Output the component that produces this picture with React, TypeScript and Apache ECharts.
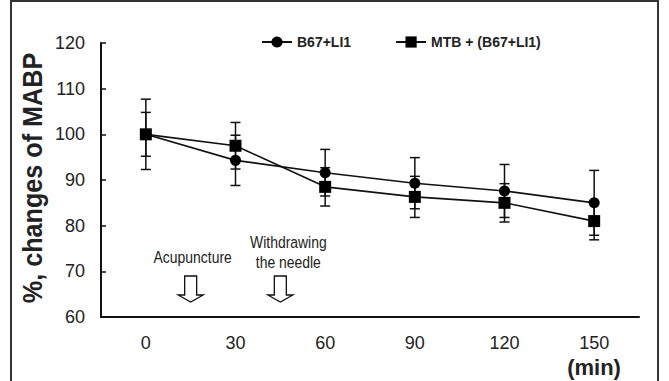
import React, { useEffect, useRef } from "react";
import * as echarts from "echarts";

// ---- data ----
const categories = ["0", "30", "60", "90", "120", "150"];
const b67Mean = [100, 94.3, 91.6, 89.3, 87.6, 85.0];
const b67Err = [7.7, 5.5, 5.1, 5.6, 5.8, 7.1];
const mtbMean = [100, 97.5, 88.5, 86.3, 85.0, 81.0];
const mtbErr = [4.8, 5.1, 4.2, 4.5, 4.2, 4.1];
const seriesNames = ["B67+LI1", "MTB + (B67+LI1)"];
const yMin = 60;
const yMax = 120;
const yInterval = 10;
const xUnit = "(min)";
const yName = "%, changes of MABP";
// arrows sit on the boundary right after these categories
const eventAfter = ["0", "30"];
const eventLabels = [["Acupuncture"], ["Withdrawing", "the needle"]];

const SANS = "'Liberation Sans', Arial, sans-serif";

export default function App() {
  const ref = useRef<HTMLDivElement>(null);

  useEffect(() => {
    document.body.style.margin = "0";
    if (!ref.current) return;
    const chart = echarts.init(ref.current, null, { renderer: "svg" });

    const errData = (mean: number[], err: number[]) =>
      mean.map((m, i) => [i, m - err[i], m + err[i]]);

    const errRender = (params: any, api: any) => {
      const x = api.value(0);
      const top = api.coord([x, api.value(2)]);
      const bot = api.coord([x, api.value(1)]);
      const hw = 5;
      const st = { stroke: "#111", lineWidth: 1.5 };
      return {
        type: "group",
        children: [
          { type: "line", shape: { x1: top[0], y1: top[1], x2: bot[0], y2: bot[1] }, style: st },
          { type: "line", shape: { x1: top[0] - hw, y1: top[1], x2: top[0] + hw, y2: top[1] }, style: st },
          { type: "line", shape: { x1: bot[0] - hw, y1: bot[1], x2: bot[0] + hw, y2: bot[1] }, style: st },
        ],
      };
    };

    const labelOffsets = [
      { dx: 2, lastBottomGap: 11 },
      { dx: 8, lastBottomGap: 6 },
    ];

    const arrowRender = (params: any, api: any) => {
      const idx = api.value(0);
      const base = api.coord([idx, yMin]);
      const band = api.size([1, 0])[0];
      const cx = base[0] + band / 2;
      const tipY = base[1] - 15;
      const headY = tipY - 7;
      const topY = tipY - 26;
      const shw = 6;
      const hhw = 12.5;
      const lines = eventLabels[params.dataIndex] || [];
      const off = labelOffsets[params.dataIndex] || { dx: 0, lastBottomGap: 10 };
      const lh = 20;
      const children: any[] = [
        {
          type: "polygon",
          shape: {
            points: [
              [cx - shw, topY],
              [cx + shw, topY],
              [cx + shw, headY],
              [cx + hhw, headY],
              [cx, tipY],
              [cx - hhw, headY],
              [cx - shw, headY],
            ],
          },
          style: { fill: "#fff", stroke: "#111", lineWidth: 1.3 },
        },
      ];
      lines.forEach((t: string, i: number) => {
        const bottom = topY - off.lastBottomGap - (lines.length - 1 - i) * lh;
        children.push({
          type: "text",
          x: cx + off.dx,
          y: bottom,
          scaleX: 0.82,
          style: {
            text: t,
            fill: "#222",
            font: `17px ${SANS}`,
            align: "center",
            verticalAlign: "bottom",
          },
        });
      });
      return { type: "group", children };
    };

    const option: any = {
      animation: false,
      backgroundColor: "#fff",
      grid: { left: 101, right: 30, top: 43, bottom: 64, containLabel: false },
      legend: {
        left: 256,
        top: 30,
        itemWidth: 30,
        itemHeight: 14,
        itemGap: 44,
        data: seriesNames,
        textStyle: { fontSize: 14, fontWeight: "bold", color: "#222", fontFamily: SANS },
      },
      xAxis: {
        type: "category",
        data: categories,
        boundaryGap: true,
        axisLine: { lineStyle: { color: "#111", width: 2 } },
        axisTick: { inside: true, length: 6, lineStyle: { color: "#111", width: 1.5 } },
        axisLabel: { fontSize: 18, color: "#222", margin: 17, fontFamily: SANS },
      },
      yAxis: {
        type: "value",
        min: yMin,
        max: yMax,
        interval: yInterval,
        axisLine: { show: true, lineStyle: { color: "#111", width: 2 } },
        axisTick: { show: true, inside: true, length: 5, lineStyle: { color: "#111", width: 1.5 } },
        axisLabel: { fontSize: 18, color: "#222", margin: 16, fontFamily: SANS },
        splitLine: { show: false },
      },
      graphic: [
        {
          type: "rect",
          shape: { x: 11, y: 1, width: 647, height: 420 },
          style: { fill: "none", stroke: "#333", lineWidth: 2 },
          silent: true,
        },
        {
          type: "text",
          x: 33,
          y: 178,
          rotation: Math.PI / 2,
          scaleX: 0.9,
          style: {
            text: yName,
            font: `bold 28px ${SANS}`,
            fill: "#222",
            align: "center",
            verticalAlign: "middle",
          },
        },
        {
          type: "text",
          x: 594,
          y: 367,
          style: {
            text: xUnit,
            font: `bold 22px ${SANS}`,
            fill: "#222",
            align: "center",
            verticalAlign: "middle",
          },
        },
      ],
      series: [
        {
          type: "custom",
          name: "err1",
          renderItem: errRender,
          data: errData(b67Mean, b67Err),
          encode: { x: 0, y: [1, 2] },
          z: 1,
          silent: true,
        },
        {
          type: "custom",
          name: "err2",
          renderItem: errRender,
          data: errData(mtbMean, mtbErr),
          encode: { x: 0, y: [1, 2] },
          z: 1,
          silent: true,
        },
        {
          type: "custom",
          name: "events",
          renderItem: arrowRender,
          data: eventAfter.map((c) => [categories.indexOf(c)]),
          encode: { x: 0 },
          z: 1,
          silent: true,
        },
        {
          type: "line",
          name: seriesNames[0],
          data: b67Mean,
          symbol: "circle",
          symbolSize: 11,
          itemStyle: { color: "#000" },
          lineStyle: { color: "#111", width: 1.6 },
          z: 3,
        },
        {
          type: "line",
          name: seriesNames[1],
          data: mtbMean,
          symbol: "rect",
          symbolSize: 12,
          itemStyle: { color: "#000" },
          lineStyle: { color: "#111", width: 1.6 },
          z: 4,
        },
      ],
    };

    chart.setOption(option);
    return () => chart.dispose();
  }, []);

  return <div ref={ref} style={{ width: 669, height: 381 }} />;
}
